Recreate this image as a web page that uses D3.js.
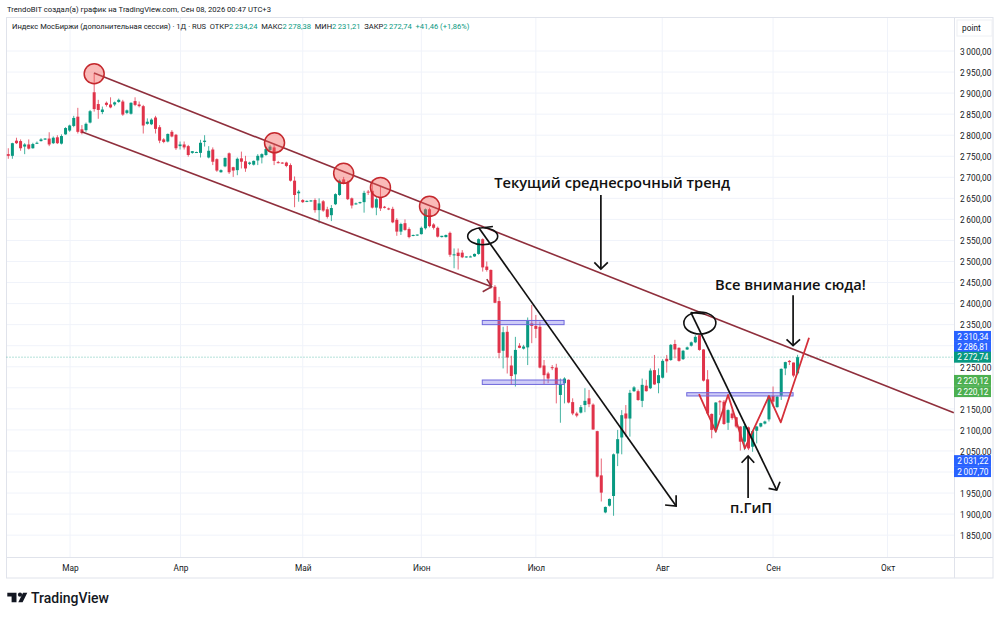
<!DOCTYPE html>
<html><head><meta charset="utf-8">
<script src="https://cdn.jsdelivr.net/npm/d3@7"></script>
<style>html,body{margin:0;padding:0;background:#fff}svg{display:block}text{font-family:Roboto,sans-serif}</style>
</head><body><svg id="c" width="1000" height="617"></svg>
<script>
const opens=[2755,2751,2787,2786,2773,2778,2769,2781,2786,2790,
2792,2781,2795,2780,2802,2811,2822,2844,2814,2812,
2830,2902,2874,2855,2877,2873,2873,2879,2880,2853,
2851,2881,2873,2869,2827,2826,2842,2819,2790,2785,
2808,2801,2774,2778,2774,2758,2759,2758,2784,2747,
2766,2743,2712,2726,2757,2724,2717,2745,2738,2732,
2730,2740,2747,2753,2765,2771,2736,2735,2735,2729,
2692,2662,2646,2642,2644,2646,2622,2643,2624,2610,
2636,2658,2695,2687,2650,2637,2639,2641,2666,2668,
2628,2652,2630,2626,2625,2599,2571,2591,2577,2561,
2562,2565,2579,2624,2588,2580,2558,2558,2568,2515,
2521,2521,2511,2511,2512,2518,2553,2488,2480,2440,
2406,2288,2333,2253,2232,2300,2293,2296,2353,2347,
2345,2253,2234,2249,2248,2183,2211,2219,2166,2139,
2141,2159,2175,2160,2097,1992,1904,1920,1943,2044,
2082,2139,2127,2192,2192,2169,2205,2199,2242,2211,
2224,2269,2266,2304,2295,2268,2291,2300,2308,2325,
2291,2220,2138,2100,2168,2167,2117,2139,2130,2108,
2072,2106,2060,2098,2108,2115,2125,2181,2154,2181,
2246,2264,2260,2234.24];
const highs=[2769,2782,2794,2790,2781,2790,2782,2785,2793,2793,
2807,2797,2800,2802,2819,2825,2846,2865,2824,2830,
2860,2947,2884,2868,2880,2890,2880,2887,2884,2861,
2878,2890,2880,2872,2840,2840,2846,2824,2793,2804,
2812,2803,2785,2785,2777,2762,2761,2789,2800,2774,
2771,2745,2719,2747,2759,2725,2747,2761,2751,2737,
2740,2755,2757,2773,2777,2777,2739,2736,2737,2733,
2702,2670,2648,2645,2646,2650,2650,2646,2630,2634,
2662,2695,2701,2692,2652,2640,2642,2668,2670,2694,
2654,2678,2632,2628,2630,2603,2592,2600,2581,2564,
2564,2583,2626,2628,2591,2583,2561,2564,2571,2531,
2531,2527,2512,2514,2519,2555,2555,2500,2481,2444,
2416,2345,2347,2276,2321,2306,2302,2367,2397,2373,
2357,2266,2238,2254,2257,2222,2225,2220,2175,2143,
2159,2199,2195,2163,2098,2032,1918,1937,2044,2100,
2147,2159,2195,2204,2196,2222,2219,2246,2278,2246,
2268,2278,2304,2314,2296,2290,2298,2310,2325,2327,
2292,2242,2139,2166,2171,2171,2149,2147,2131,2109,
2116,2108,2100,2109,2117,2122,2183,2203,2181,2246,
2262,2266,2260,2278.38];
const lows=[2744,2744,2779,2763,2755,2766,2768,2779,2785,2789,
2774,2779,2779,2778,2801,2808,2819,2804,2802,2808,
2828,2856,2839,2850,2868,2864,2869,2877,2846,2850,
2849,2869,2866,2804,2825,2824,2804,2781,2781,2783,
2795,2765,2766,2766,2749,2756,2758,2747,2773,2745,
2729,2713,2711,2724,2708,2701,2705,2721,2713,2729,
2728,2729,2733,2751,2763,2729,2733,2732,2724,2690,
2629,2642,2639,2641,2642,2616,2591,2618,2602,2596,
2634,2656,2683,2646,2626,2635,2637,2616,2658,2626,
2610,2620,2626,2622,2591,2561,2563,2573,2555,2560,
2561,2564,2576,2581,2576,2557,2557,2557,2511,2484,
2481,2508,2509,2510,2511,2516,2476,2476,2435,2401,
2270,2246,2234,2207,2203,2294,2291,2254,2306,2318,
2246,2209,2211,2242,2163,2117,2163,2163,2135,2130,
2139,2142,2154,2100,1987,1930,1902,1918,1896,2014,
2042,2084,2084,2190,2169,2154,2191,2197,2207,2187,
2222,2236,2264,2270,2262,2266,2290,2298,2306,2288,
2215,2135,2080,2093,2135,2112,2100,2124,2104,2051,
2052,2052,2048,2068,2106,2113,2120,2155,2153,2171,
2230,2254,2225,2231.21];
const closes=[2751,2781,2781,2769,2778,2768,2779,2782,2790,2792,
2778,2794,2781,2798,2817,2823,2841,2808,2805,2827,
2857,2862,2860,2861,2872,2866,2878,2884,2849,2859,
2877,2872,2869,2823,2832,2837,2815,2787,2784,2803,
2797,2769,2778,2771,2753,2762,2760,2782,2787,2763,
2737,2716,2717,2746,2712,2716,2744,2737,2721,2735,
2739,2751,2755,2767,2773,2739,2735,2734,2727,2692,
2658,2666,2641,2644,2645,2622,2638,2621,2606,2627,
2660,2692,2686,2648,2633,2638,2641,2663,2664,2628,
2648,2626,2628,2624,2593,2571,2589,2575,2558,2563,
2564,2580,2624,2584,2580,2559,2561,2563,2516,2517,
2513,2510,2512,2512,2518,2553,2486,2480,2444,2402,
2283,2332,2272,2228,2290,2295,2298,2359,2347,2340,
2248,2230,2222,2248,2209,2209,2222,2165,2139,2134,
2154,2169,2161,2101,1989,1951,1917,1936,2042,2078,
2135,2127,2188,2201,2171,2207,2192,2241,2208,2230,
2264,2263,2302,2291,2264,2288,2296,2308,2321,2290,
2217,2139,2100,2165,2166,2114,2147,2128,2108,2072,
2109,2056,2097,2108,2116,2120,2181,2167,2179,2245,
2261,2261,2229,2272.74];

const gridPrices=[3000,2950,2900,2850,2800,2750,2700,2650,2600,2550,2500,2450,2400,2350,2300,2250,2200,2150,2100,2050,2000,1950,1900,1850];
const priceTicks=[3000,2950,2900,2850,2800,2750,2700,2650,2600,2550,2500,2450,2400,2350,2250,2150,2100,2050,1950,1900,1850];
const monthNames=["Мар","Апр","Май","Июн","Июл","Авг","Сен","Окт"];
const monthIdx=[15.1,42.1,72,101,129,159.9,187,215];
const boxPrices=[2310.34,2286.81,2272.74,2220.12,2220.12,2031.22,2007.70];
const boxAt=[2322,2296,2272.74,2217.5,2191,2027,2001];
const boxKinds=["b","b","t","g","g","b","b"];
// drawing anchors as [bar index, price]
const upperChannel=[[20.95,2947.7],[231.2,2141]];
const lowerChannel=[[17.95,2808.3],[118.2,2440]];
const lowerArrow=[[116,2428],[118.2,2440],[117,2458]];
const touches=[[21,2946],[65.1,2782],[82,2709.5],[91,2676],[103,2631]];
const bigLines=[[[115,2581],[163.3,1919]],[[160.6,1921.6],[163.3,1919],[163.3,1945]],
 [[166.9,2379],[187.9,1957]],[[185.9,1961],[187.9,1957],[188.7,1977]],
 [[144.9,2658],[144.9,2482]],[[143.3,2498],[144.9,2482],[146.6,2498]],
 [[191.9,2420],[191.9,2300]],[[190.3,2315],[191.9,2300],[193.6,2315]],
 [[180.9,1938],[180.9,2038]],[[179.3,2022],[180.9,2038],[182.4,2022]]];
const loops=[[116,2560],[169.1,2354]];
const loopTails=[[[116.5,2581],[118.5,2583]],[[166.9,2379],[170.5,2375]]];
const zones=[[115.9,135.9,2360,2350],[115.9,135.9,2218.5,2208],[165.9,191.9,2188.4,2180.6]];
const patternW=[[168.9,2185],[173,2096],[176,2183],[180.1,2056],[186,2180.5],[188.9,2118],[195.8,2319]];
const notes=[["Текущий среднесрочный тренд",118.8,2674.5],["Все внимание сюда!",172.8,2433],["п.ГиП",176.5,1902]];

const svg=d3.select("#c");
const x=d3.scaleLinear().domain([0,230]).range([8.3,948.9]);
const y=d3.scaleLinear().domain([3000,1850]).range([51,535.15]);
const L=6.5,R=954,T=17.5,B=557.5,RR=993,BB=578;
const up="#089981",dn="#e0334a",grid="#f0f3fa",frame="#e0e3eb";
const loc=d3.formatLocale({decimal:",",thousands:"\u2009",grouping:[3],currency:["",""]});
const fmt=loc.format(",.2f");

// grid
svg.append("g").selectAll("line").data(gridPrices).join("line")
 .attr("x1",L).attr("x2",R).attr("y1",d=>y(d)).attr("y2",d=>y(d)).attr("stroke",grid);
svg.append("g").selectAll("line").data(monthIdx).join("line")
 .attr("x1",d=>x(d)).attr("x2",d=>x(d)).attr("y1",T).attr("y2",B).attr("stroke",grid);
// frame
svg.append("rect").attr("x",L).attr("y",T).attr("width",RR-L).attr("height",BB-T).attr("fill","none").attr("stroke",frame);
svg.append("line").attr("x1",L).attr("x2",RR).attr("y1",B).attr("y2",B).attr("stroke",frame);
svg.append("line").attr("x1",R+.5).attr("x2",R+.5).attr("y1",T).attr("y2",BB).attr("stroke",frame);

// axes
const ay=svg.append("g").attr("transform",`translate(${R},0.6)`).call(d3.axisRight(y).tickValues(priceTicks).tickSize(0).tickPadding(6).tickFormat(fmt));
ay.select(".domain").remove();
ay.selectAll("text").attr("font-size",8.3).attr("fill","#131722").style("font-family","Roboto,sans-serif");
const ax=svg.append("g").attr("transform",`translate(0,${B})`).call(d3.axisBottom(x).tickValues(monthIdx).tickSize(0).tickPadding(8).tickFormat((d,i)=>monthNames[i]));
ax.select(".domain").remove();
ax.selectAll("text").attr("font-size",8.3).attr("fill","#131722").style("font-family","Roboto,sans-serif");

// last price line
svg.append("line").attr("x1",L).attr("x2",R).attr("y1",y(closes[closes.length-1])).attr("y2",y(closes[closes.length-1]))
 .attr("stroke",up).attr("stroke-opacity",.6).attr("stroke-dasharray","1 2");

// candles
const idx=d3.range(opens.length);
const col=i=>closes[i]>=opens[i]?up:dn;
svg.append("g").selectAll("line").data(idx).join("line")
 .attr("x1",i=>x(i)).attr("x2",i=>x(i)).attr("y1",i=>y(highs[i])).attr("y2",i=>y(lows[i]))
 .attr("stroke",col).attr("stroke-width",1).attr("stroke-opacity",.75);
svg.append("g").selectAll("rect").data(idx).join("rect")
 .attr("x",i=>x(i)-1.5).attr("width",3)
 .attr("y",i=>y(Math.max(opens[i],closes[i])))
 .attr("height",i=>Math.max(1,Math.abs(y(opens[i])-y(closes[i]))))
 .attr("fill",col);

const ln=d3.line().x(d=>x(d[0])).y(d=>y(d[1]));
// zones
svg.append("g").selectAll("rect").data(zones).join("rect")
 .attr("x",d=>x(d[0])).attr("width",d=>x(d[1])-x(d[0])).attr("y",d=>y(d[2])).attr("height",d=>y(d[3])-y(d[2]))
 .attr("fill","rgba(125,120,235,.38)").attr("stroke","#6f68dc").attr("stroke-width",1);
// channel
const chan="#8f2f3c";
svg.append("g").selectAll("path").data([upperChannel,lowerChannel,lowerArrow]).join("path")
 .attr("d",ln).attr("fill","none").attr("stroke",chan).attr("stroke-width",1.6);
// circles
svg.append("g").selectAll("circle").data(touches).join("circle")
 .attr("cx",d=>x(d[0])).attr("cy",d=>y(d[1])).attr("r",10)
 .attr("fill","rgba(242,90,85,.42)").attr("stroke","#c4282d").attr("stroke-width",1.5);
// W pattern
svg.append("path").attr("d",ln(patternW)).attr("fill","none").attr("stroke","#d5303a").attr("stroke-width",1.8).attr("stroke-linejoin","round");
// black hand-drawn
svg.append("g").selectAll("path").data(bigLines).join("path")
 .attr("d",ln).attr("fill","none").attr("stroke","#111").attr("stroke-width",1.7);
svg.append("g").selectAll("ellipse").data(loops).join("ellipse")
 .attr("cx",d=>x(d[0])).attr("cy",d=>y(d[1]))
 .attr("rx",(d,i)=>i?16:15).attr("ry",(d,i)=>i?11:8.5)
 .attr("fill","none").attr("stroke","#111").attr("stroke-width",1.6);
svg.append("g").selectAll("path").data(loopTails).join("path")
 .attr("d",ln).attr("fill","none").attr("stroke","#111").attr("stroke-width",1.5);
// notes
svg.append("g").selectAll("text").data(notes).join("text")
 .attr("x",d=>x(d[1])).attr("y",d=>y(d[2])).text(d=>d[0])
 .attr("font-size",14.7).attr("font-weight",600).attr("fill","#111").style("font-family","'Open Sans',sans-serif");

// price boxes
const boxFill={b:"#2962ff",t:"#089981",g:"#4caf50"};
const bg=svg.append("g").selectAll("g").data(boxPrices).join("g")
 .attr("transform",(d,i)=>`translate(${R},${y(boxAt[i])})`);
bg.append("rect").attr("x",0).attr("y",-5.5).attr("width",37).attr("height",11).attr("fill",(d,i)=>boxFill[boxKinds[i]]);
bg.append("text").attr("x",34.5).attr("y",3.1).attr("text-anchor","end").attr("font-size",8.3).attr("fill","#fff").text(d=>fmt(d));

// header
svg.append("text").attr("x",7).attr("y",12).attr("font-size",7.65).attr("fill","#131722")
 .text("TrendoBIT создал(а) график на TradingView.com, Сен 08, 2026 00:47 UTC+3");
const lg=svg.append("text").attr("x",12).attr("y",29).attr("font-size",7.55).attr("fill","#131722");
const legend=[["Индекс МосБиржи (дополнительная сессия) · 1Д · RUS  ОТКР",0],[fmt(opens[193]),1],["  МАКС",0],[fmt(highs[193]),1],["  МИН",0],[fmt(lows[193]),1],["  ЗАКР",0],[fmt(closes[193]),1],["  +41,46 (+1,86%)",1]];
lg.style("white-space","pre");
lg.selectAll("tspan").data(legend).join("tspan").text(d=>d[0]).attr("fill",d=>d[1]?up:"#131722");

// point button
svg.append("rect").attr("x",957).attr("y",20).attr("width",35).attr("height",16).attr("fill","#fff").attr("stroke","#eef0f4");
svg.append("text").attr("x",962).attr("y",31).attr("font-size",8.3).attr("fill","#131722").text("point");

// logo
svg.append("path").attr("fill","#131722").attr("d","M7.3 592.7H16.5V602.3H11.6V596.6H7.3Z M23 592.7H27.3L22.6 602.3H18.3Z");
svg.append("circle").attr("cx",20).attr("cy",594.7).attr("r",2.1).attr("fill","#131722");
svg.append("text").attr("x",31).attr("y",603).attr("font-size",14).attr("font-weight",500).attr("fill","#131722").text("TradingView");
</script></body></html>
